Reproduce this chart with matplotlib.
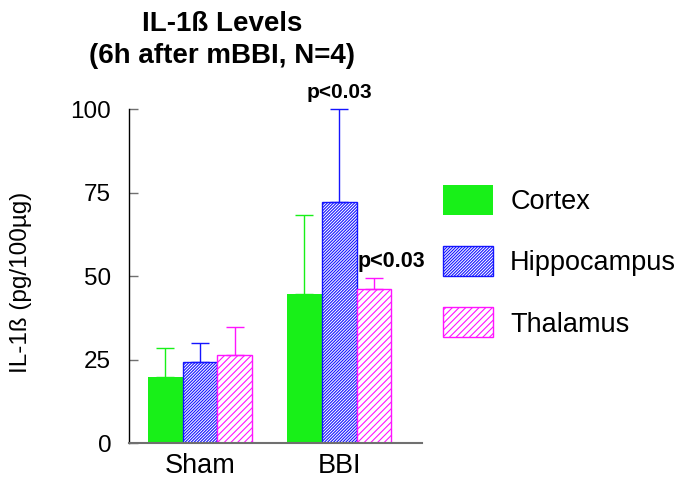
import numpy as np
from matplotlib import pyplot as plt

plt.rcParams['font.family'] = ['Liberation Sans', 'DejaVu Sans']
plt.rcParams['hatch.linewidth'] = 0.8

groups = ['Sham', 'BBI']
regions = ['Cortex', 'Hippocampus', 'Thalamus']
means = {
    'Cortex': [19.7, 44.6],
    'Hippocampus': [24.4, 72.3],
    'Thalamus': [26.3, 46.1],
}
sem = {
    'Cortex': [8.7, 23.8],
    'Hippocampus': [5.6, 27.7],
    'Thalamus': [8.6, 3.4],
}
y_ticks = [0, 25, 50, 75, 100]
p_labels = [('Hippocampus', 1, 'p<0.03'), ('Thalamus', 1, 'p<0.03')]

colors = {'Cortex': '#18f018', 'Hippocampus': '#1414ff', 'Thalamus': '#ff14ff'}
hatches = {'Cortex': None, 'Hippocampus': '/' * 11, 'Thalamus': '/' * 5}
faces = {'Cortex': '#18f018', 'Hippocampus': 'white', 'Thalamus': 'white'}


def draw_bars(ax, x, width):
    handles = []
    for i, reg in enumerate(regions):
        pos = x + (i - 1) * width
        lw = 0 if reg == 'Cortex' else 1.0
        b = ax.bar(pos, means[reg], width, color=faces[reg], edgecolor=colors[reg],
                   hatch=hatches[reg], linewidth=lw, label=reg, zorder=2)
        ax.errorbar(pos, means[reg], yerr=[np.zeros(len(groups)), sem[reg]], fmt='none',
                    ecolor=colors[reg], elinewidth=1.0, capsize=6.5, capthick=1.0,
                    zorder=3, clip_on=False)
        handles.append(b)
    return handles


def mark_p_values(ax, x, width):
    for reg, gi, txt in p_labels:
        i = regions.index(reg)
        pos = x[gi] + (i - 1) * width
        top = means[reg][gi] + sem[reg][gi]
        if reg == 'Hippocampus':
            ax.annotate(txt, (pos, top), xytext=(0, 8.5), textcoords='offset points',
                        ha='center', va='baseline', fontsize=15, fontweight='bold',
                        annotation_clip=False)
        else:
            ax.annotate(txt, (pos - width / 2, top), xytext=(1, 8), textcoords='offset points',
                        ha='left', va='baseline', fontsize=15.5, fontweight='bold',
                        annotation_clip=False)


fig = plt.figure(figsize=(6.83, 4.82), dpi=100)
ax = fig.add_axes([0.1893, 0.0809, 0.4281, 0.6923])

x = np.arange(len(groups))
width = 0.25
handles = draw_bars(ax, x, width)
mark_p_values(ax, x, width)

ax.set_xlim(-0.508, 1.592)
ax.set_ylim(0, 100)
ax.set_yticks(y_ticks)
ax.set_xticks(x)
ax.set_xticklabels(groups)
ax.tick_params(axis='y', direction='in', length=6.5, width=1, color='#707070',
               pad=13, labelsize=17.5)
ax.tick_params(axis='x', length=0, pad=7, labelsize=19.5)

ax.spines['top'].set_visible(False)
ax.spines['right'].set_visible(False)
ax.spines['left'].set_color('black')
ax.spines['left'].set_linewidth(1.0)
ax.spines['bottom'].set_color('#707070')
ax.spines['bottom'].set_linewidth(1.5)

fig.text(21 / 683, 1 - 282 / 482, 'IL-1ß (pg/100µg)', rotation=90,
         ha='center', va='center', fontsize=17.5)
fig.text(222 / 683, 1 - 40 / 482, 'IL-1ß Levels\n(6h after mBBI, N=4)',
         ha='center', va='center', fontsize=20, fontweight='bold', linespacing=1.32)

fig.legend(handles=handles, labels=regions, loc='upper left',
           bbox_to_anchor=(443 / 683, 1 - 185 / 482), frameon=False, fontsize=19.5,
           borderpad=0, borderaxespad=0, handlelength=1.85, handleheight=1.33,
           handletextpad=0.63, labelspacing=1.15)

fig.savefig('out.png', dpi=100)
